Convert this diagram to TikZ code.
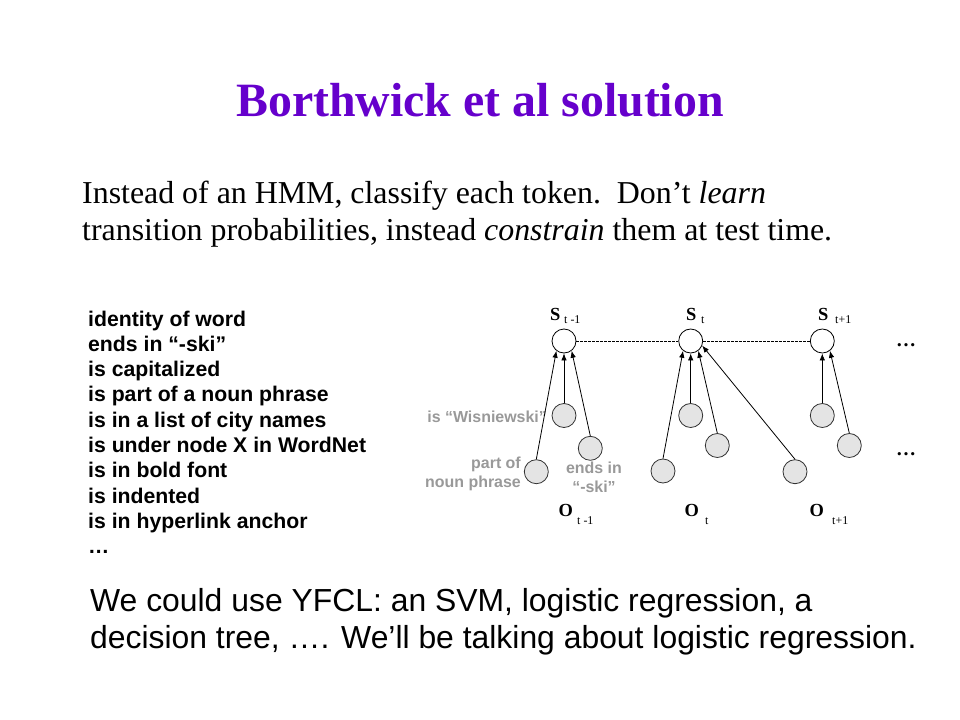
\documentclass[tikz,border=0pt]{standalone}
\usepackage{fontspec}
\setmainfont{Liberation Serif}
\newfontfamily\arialf{Liberation Sans}
\usetikzlibrary{arrows.meta}
\definecolor{titlepurple}{HTML}{6600CC}
\definecolor{labelgray}{HTML}{999999}
\definecolor{obsfill}{HTML}{E4E4E4}
\begin{document}
\begin{tikzpicture}[x=1bp,y=-1bp,
  statec/.style={circle,draw=black,fill=white,line width=0.8bp,minimum size=24bp,inner sep=0pt},
  obsc/.style={circle,draw=black!80,fill=obsfill,line width=0.8bp,minimum size=24bp,inner sep=0pt},
  arr/.style={-{Latex[length=7bp,width=5.5bp]},line width=0.8bp},
  glabel/.style={text=labelgray,font=\arialf\bfseries\fontsize{16}{19}\selectfont,inner sep=0pt},
  svlabel/.style={anchor=base west,inner sep=0pt,font=\bfseries\fontsize{18.5}{20}\selectfont},
  sublabel/.style={anchor=base west,inner sep=0pt,font=\fontsize{12}{13}\selectfont},
  dotsl/.style={anchor=base west,inner sep=0pt,font=\bfseries\fontsize{20}{20}\selectfont}
]
\useasboundingbox[fill=white] (0,0) rectangle (960,720);
% title
\node[anchor=base,inner sep=0pt,text=titlepurple,font=\bfseries\fontsize{48}{52}\selectfont] (title) at (480,116.7) {Borthwick et al solution};
% body
\node[anchor=base west,inner sep=0pt,font=\fontsize{32}{36}\selectfont] (l1) at (82,203.3) {Instead of an HMM, classify each token.\ \ Don’t \textit{learn}};
\node[anchor=base west,inner sep=0pt,font=\fontsize{32}{36}\selectfont] (l2) at (82,240) {transition probabilities, instead \textit{constrain} them at test time.};
% feature list
\node[anchor=north west,inner sep=0pt,align=left,font=\arialf\bfseries\fontsize{21.3}{25.4}\selectfont] (feat) at (88,310.5) {identity of word\\ ends in “-ski”\\ is capitalized\\ is part of a noun phrase\\ is in a list of city names\\ is under node X in WordNet\\ is in bold font\\ is indented\\ is in hyperlink anchor\\ …};
% bottom
\node[anchor=base west,inner sep=0pt,font=\arialf\fontsize{32}{37}\selectfont] (b1) at (90,611.7) {We could use YFCL: an SVM, logistic regression, a};
\node[anchor=base west,inner sep=0pt,font=\arialf\fontsize{32}{37}\selectfont] (b2) at (90,648.3) {decision tree, …. We’ll be talking about logistic regression.};
% gray labels
\node[glabel,anchor=east] (lw) at (547,417) {is “Wisniewski”};
\node[glabel,anchor=east,align=right] (lp) at (521,473.5) {part of\\ noun phrase};
\node[glabel,align=center] (le) at (594,477.5) {ends in\\ “-ski”};
% state circles
\node[statec] (s1) at (564,341) {};
\node[statec] (s2) at (690.7,341) {};
\node[statec] (s3) at (822.3,341) {};
% observation circles
\node[obsc] (w1) at (564,415.5) {};
\node[obsc] (e1) at (590.3,448.3) {};
\node[obsc] (p1) at (536.3,471.7) {};
\node[obsc] (w2) at (690.7,415.5) {};
\node[obsc] (e2) at (717.3,445.5) {};
\node[obsc] (p2) at (663,471) {};
\node[obsc] (x2) at (795,471.7) {};
\node[obsc] (w3) at (822.3,415.5) {};
\node[obsc] (e3) at (849.3,445.5) {};
% dashed chain
\draw[dashed,dash pattern=on 2.5bp off 1.5bp,line width=0.7bp] (s1) -- (s2) -- (s3);
% arrows
\draw[arr] (p1.north) -- (s1.-128);
\draw[arr] (w1.north) -- (s1.south);
\draw[arr] (e1.north) -- (s1.-52);
\draw[arr] (p2.north) -- (s2.-128);
\draw[arr] (w2.north) -- (s2.south);
\draw[arr] (e2.north) -- (s2.-52);
\draw[arr] (x2.north) -- (s2.-22);
\draw[arr] (w3.north) -- (s3.south);
\draw[arr] (e3.north) -- (s3.-52);
% S and O labels
\node[svlabel] (ls1) at (550,320) {S};
\node[sublabel] (ls1s) at (564,323) {t -1};
\node[svlabel] (ls2) at (686,320) {S};
\node[sublabel] (ls2s) at (701,323) {t};
\node[svlabel] (ls3) at (818,320) {S};
\node[sublabel] (ls3s) at (835,323) {t+1};
\node[svlabel] (lo1) at (558.5,516.7) {O};
\node[sublabel] (lo1s) at (577,524) {t -1};
\node[svlabel] (lo2) at (684.5,516.7) {O};
\node[sublabel] (lo2s) at (705,524) {t};
\node[svlabel] (lo3) at (809.5,516.7) {O};
\node[sublabel] (lo3s) at (832,524) {t+1};
% ellipses
\node[dotsl] (d1) at (896,346) {…};
\node[dotsl] (d2) at (896,455) {…};
\end{tikzpicture}
\end{document}
